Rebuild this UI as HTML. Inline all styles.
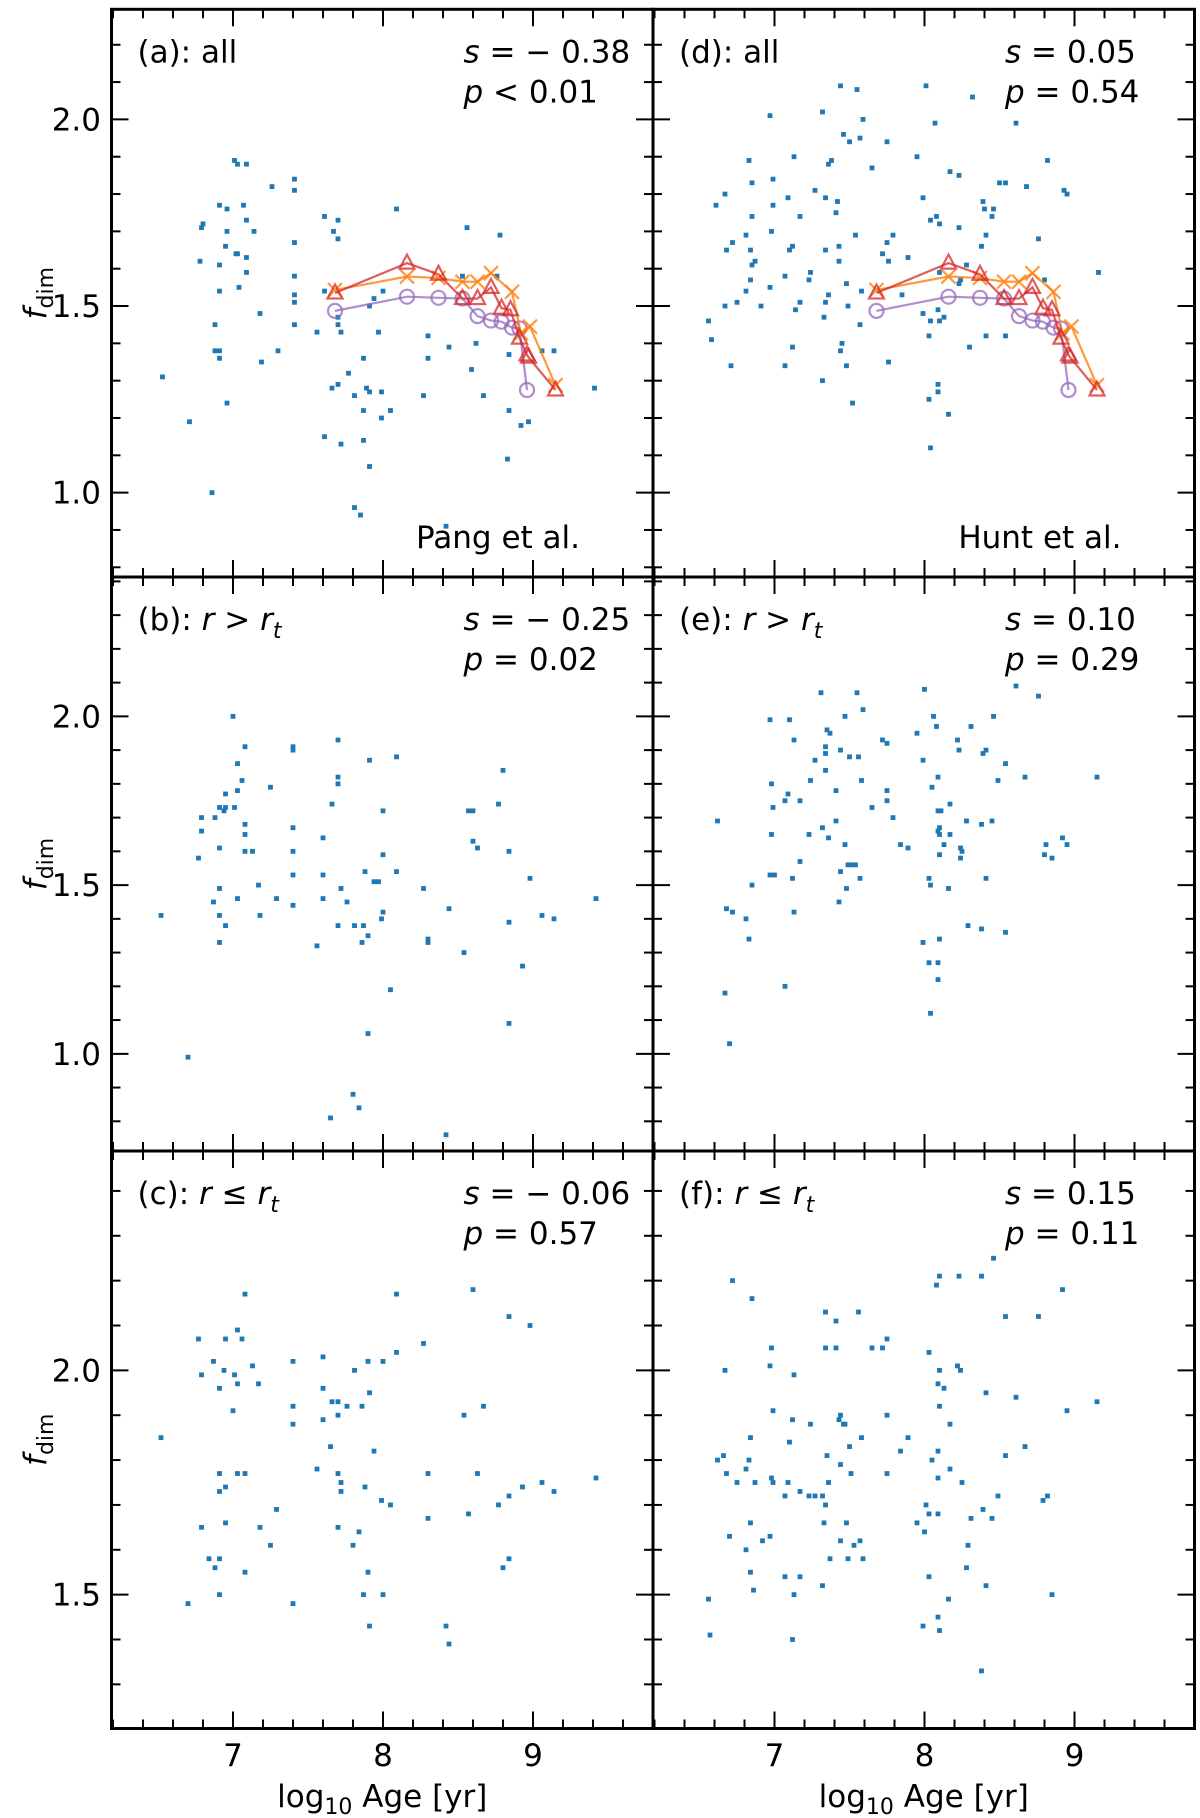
<!DOCTYPE html>
<html><head><meta charset="utf-8"><style>
html,body{margin:0;padding:0;background:#fff;}
svg{display:block;font-family:"DejaVu Sans","Liberation Sans",sans-serif;}
</style></head><body>
<svg id="fig" width="1200" height="1818" viewBox="0 0 1200 1818" xmlns="http://www.w3.org/2000/svg"></svg>
<script>
// ---- data ----
const xTicks=[7,8,9];
const xTickLabels=["7","8","9"];
const yTicksA=[1.0,1.5,2.0];
const yTicksB=[1.0,1.5,2.0];
const yTicksC=[1.5,2.0];
const yTickLabelsA=["1.0","1.5","2.0"];
const yTickLabelsC=["1.5","2.0"];

const aX=[6.53,6.71,6.78,6.79,6.80,6.86,6.88,6.88,6.91,6.91,6.91,6.91,6.91,6.96,6.96,6.95,6.96,7.01,7.03,7.09,7.04,7.07,7.09,7.09,7.09,7.02,7.03,7.14,7.18,7.19,7.26,7.30,7.41,7.41,7.41,7.41,7.41,7.41,7.41,7.56,7.61,7.70,7.67,7.70,7.61,7.70,7.72,7.70,7.66,7.70,7.61,7.72,7.77,7.81,7.87,7.89,7.91,7.87,7.87,7.91,7.81,7.85,7.91,7.94,7.97,7.99,7.99,8.05,8.00,8.09,8.27,8.30,8.30,8.44,8.42,8.53,8.56,8.59,8.62,8.67,8.78,8.76,8.84,8.84,8.83,8.92,8.97,9.06,9.14,9.41];
const aY=[1.31,1.19,1.62,1.71,1.72,1.00,1.45,1.38,1.77,1.61,1.54,1.38,1.36,1.76,1.70,1.66,1.24,1.89,1.88,1.88,1.55,1.77,1.73,1.63,1.59,1.64,1.64,1.70,1.48,1.35,1.82,1.38,1.84,1.81,1.67,1.58,1.53,1.51,1.45,1.43,1.74,1.73,1.70,1.68,1.54,1.45,1.43,1.47,1.28,1.29,1.15,1.13,1.32,1.26,1.36,1.28,1.27,1.22,1.14,1.07,0.96,0.94,1.50,1.52,1.43,1.20,1.27,1.22,1.54,1.76,1.26,1.42,1.36,1.39,0.91,1.58,1.71,1.33,1.40,1.26,1.69,1.58,1.37,1.22,1.09,1.18,1.19,1.38,1.38,1.28];

const dX=[7.44,7.55,8.01,8.32,7.32,6.97,7.59,8.07,8.61,7.46,7.50,7.57,7.75,7.13,6.83,7.36,7.38,7.65,7.95,8.82,8.17,8.23,6.85,6.99,8.50,8.54,8.68,8.93,8.95,6.67,6.61,7.09,6.99,7.27,7.34,7.42,7.41,7.99,8.39,8.40,8.46,8.45,6.85,7.17,8.04,8.08,8.10,8.23,6.98,7.54,7.79,7.75,6.81,6.72,6.68,6.84,6.87,6.85,7.10,7.12,7.34,7.43,7.43,7.72,7.76,7.89,8.41,8.38,8.76,8.28,6.84,6.81,7.07,7.24,7.23,6.97,7.48,7.36,7.34,7.58,7.85,8.10,8.24,8.23,8.80,9.16,6.67,6.75,6.91,7.14,7.17,7.33,7.49,8.09,7.99,8.04,8.10,8.13,6.56,6.58,7.57,8.03,8.41,8.54,8.30,7.45,7.44,7.12,6.71,7.07,7.48,7.76,7.32,8.09,8.09,8.03,7.52,8.16,8.04];
const dY=[2.09,2.08,2.09,2.06,2.02,2.01,2.00,1.99,1.99,1.96,1.94,1.95,1.94,1.90,1.89,1.88,1.89,1.87,1.90,1.89,1.86,1.85,1.83,1.84,1.83,1.83,1.82,1.81,1.80,1.80,1.77,1.79,1.77,1.81,1.79,1.78,1.75,1.79,1.78,1.76,1.76,1.74,1.74,1.74,1.73,1.74,1.72,1.71,1.70,1.69,1.69,1.67,1.69,1.67,1.65,1.65,1.62,1.61,1.65,1.66,1.65,1.66,1.62,1.64,1.62,1.63,1.69,1.66,1.68,1.61,1.57,1.54,1.58,1.59,1.57,1.55,1.56,1.53,1.51,1.54,1.53,1.59,1.57,1.56,1.57,1.59,1.50,1.51,1.50,1.49,1.51,1.47,1.50,1.49,1.48,1.46,1.46,1.47,1.46,1.41,1.45,1.42,1.42,1.42,1.39,1.40,1.38,1.39,1.34,1.34,1.34,1.35,1.30,1.29,1.27,1.25,1.24,1.21,1.12];

const bX=[7.00,7.08,7.40,7.40,7.70,7.91,8.09,8.80,7.03,7.06,7.25,7.70,7.70,7.03,6.95,6.91,6.95,6.94,7.01,6.79,6.88,6.79,7.66,8.00,8.77,8.57,8.60,7.08,7.08,7.40,7.60,6.91,6.77,7.08,7.13,7.40,8.60,8.63,8.84,8.00,7.40,7.60,7.88,8.09,7.97,7.94,8.98,6.91,7.17,7.72,8.27,6.87,7.03,7.29,7.60,7.40,7.76,9.42,6.52,6.91,7.18,8.00,7.99,8.44,9.06,9.14,8.84,6.95,7.70,7.81,7.87,7.90,7.86,8.30,8.30,6.91,7.56,8.54,8.93,8.05,8.84,7.90,6.70,7.80,7.84,7.65,8.42];
const bY=[2.00,1.91,1.91,1.90,1.93,1.87,1.88,1.84,1.86,1.81,1.79,1.82,1.80,1.78,1.77,1.73,1.73,1.72,1.73,1.70,1.70,1.66,1.74,1.72,1.74,1.72,1.72,1.68,1.65,1.67,1.64,1.61,1.58,1.60,1.60,1.60,1.63,1.61,1.60,1.59,1.53,1.53,1.54,1.54,1.51,1.51,1.52,1.49,1.50,1.49,1.49,1.45,1.46,1.46,1.46,1.44,1.45,1.46,1.41,1.41,1.41,1.42,1.40,1.43,1.41,1.40,1.39,1.38,1.38,1.38,1.38,1.35,1.33,1.34,1.33,1.33,1.32,1.30,1.26,1.19,1.09,1.06,0.99,0.88,0.84,0.81,0.76];

const eX=[7.31,7.55,8.00,8.61,8.76,7.59,7.47,8.06,8.46,6.97,7.10,8.08,8.31,7.35,7.37,7.13,7.95,7.72,7.75,8.22,7.34,7.34,7.44,8.23,8.39,8.41,7.27,7.50,7.56,7.99,8.54,7.34,8.09,8.67,9.15,8.49,7.24,7.58,6.98,7.41,7.75,8.05,7.09,7.07,7.17,7.75,8.17,6.99,7.65,8.09,8.11,6.62,7.41,7.79,8.28,8.45,8.38,7.32,7.36,6.98,7.23,8.09,8.10,8.10,8.17,7.47,7.84,7.89,8.13,8.24,8.25,8.24,8.10,8.81,8.92,8.95,8.80,8.85,7.17,7.49,7.52,7.54,7.44,6.97,7.00,7.12,7.57,8.03,8.04,8.41,6.85,8.16,7.48,7.43,6.68,6.72,7.13,6.81,8.29,8.38,8.54,6.83,7.99,8.10,8.03,8.09,8.09,7.07,6.67,8.04,6.70];
const eY=[2.07,2.07,2.08,2.09,2.06,2.02,2.00,2.00,2.00,1.99,1.99,1.97,1.97,1.96,1.95,1.93,1.95,1.93,1.92,1.93,1.91,1.89,1.90,1.90,1.89,1.90,1.87,1.88,1.88,1.87,1.86,1.84,1.82,1.82,1.82,1.81,1.81,1.81,1.80,1.78,1.78,1.79,1.77,1.75,1.75,1.75,1.74,1.73,1.73,1.72,1.72,1.69,1.69,1.70,1.69,1.69,1.68,1.67,1.64,1.65,1.65,1.66,1.67,1.65,1.65,1.62,1.62,1.61,1.62,1.61,1.60,1.58,1.59,1.62,1.64,1.62,1.59,1.58,1.57,1.56,1.56,1.56,1.54,1.53,1.53,1.52,1.52,1.52,1.50,1.52,1.50,1.49,1.49,1.45,1.43,1.42,1.42,1.40,1.38,1.37,1.36,1.34,1.33,1.34,1.27,1.27,1.22,1.20,1.18,1.12,1.03];

const cX=[7.08,8.09,8.60,8.84,8.98,6.77,7.03,6.95,7.06,8.27,8.09,6.87,7.40,7.60,7.90,8.00,7.13,6.94,7.81,6.79,7.01,7.17,6.91,7.03,7.60,7.91,7.66,7.70,7.40,7.76,7.86,8.67,7.00,7.70,8.54,7.60,7.40,6.52,7.65,7.94,7.56,6.91,7.03,7.08,7.70,8.30,8.63,7.72,9.06,9.42,6.95,7.88,8.93,6.91,7.72,9.14,7.99,8.05,8.77,8.84,7.29,8.57,6.79,6.95,7.18,7.70,8.30,7.84,7.25,7.80,6.84,6.88,6.91,7.08,8.80,8.84,7.90,6.91,7.87,8.00,6.70,7.40,7.91,8.42,8.44];
const cY=[2.17,2.17,2.18,2.12,2.10,2.07,2.09,2.07,2.07,2.06,2.04,2.02,2.02,2.03,2.02,2.02,2.01,2.00,2.00,1.99,1.99,1.97,1.96,1.97,1.96,1.95,1.93,1.93,1.92,1.92,1.92,1.92,1.91,1.90,1.90,1.89,1.88,1.85,1.83,1.82,1.78,1.77,1.77,1.77,1.77,1.77,1.77,1.75,1.75,1.76,1.74,1.74,1.74,1.73,1.73,1.73,1.71,1.70,1.70,1.72,1.69,1.68,1.65,1.66,1.65,1.65,1.67,1.64,1.61,1.61,1.58,1.56,1.58,1.55,1.56,1.58,1.55,1.50,1.50,1.50,1.48,1.48,1.43,1.43,1.39];

const fX=[8.46,8.10,8.23,8.38,8.08,6.72,8.92,6.85,7.34,7.56,8.54,8.76,7.41,7.75,6.98,7.34,7.41,7.65,7.72,8.03,8.22,6.67,6.97,8.10,8.24,7.13,8.09,8.13,8.41,8.61,9.15,8.10,6.99,8.95,7.43,7.44,7.12,7.24,7.46,7.47,7.75,8.17,6.84,7.58,7.89,7.10,7.50,8.67,7.84,7.35,8.09,8.54,6.66,6.62,6.83,8.05,7.44,8.17,6.81,6.68,7.51,7.75,8.09,6.75,6.87,6.98,6.99,7.09,7.36,8.25,7.17,7.07,7.23,7.27,7.32,8.49,8.79,8.82,7.34,8.01,8.03,8.09,8.39,6.84,7.33,7.48,7.95,8.31,8.45,8.00,6.70,6.97,6.92,7.44,7.57,7.53,6.81,8.29,7.37,7.49,7.59,8.28,6.84,7.07,7.17,7.32,8.03,8.41,6.86,7.13,6.56,8.85,8.16,8.09,8.10,7.99,6.57,7.12,8.38];
const fY=[2.25,2.21,2.21,2.21,2.19,2.20,2.18,2.16,2.13,2.13,2.12,2.12,2.11,2.07,2.05,2.05,2.05,2.05,2.05,2.04,2.01,2.00,2.01,2.00,2.00,1.99,1.97,1.96,1.95,1.94,1.93,1.92,1.91,1.91,1.89,1.90,1.89,1.88,1.88,1.88,1.90,1.88,1.85,1.85,1.85,1.84,1.83,1.83,1.82,1.81,1.82,1.81,1.81,1.80,1.80,1.80,1.79,1.78,1.78,1.77,1.77,1.77,1.76,1.75,1.75,1.76,1.75,1.75,1.75,1.75,1.73,1.72,1.72,1.72,1.72,1.72,1.71,1.72,1.70,1.70,1.68,1.68,1.69,1.66,1.66,1.66,1.66,1.67,1.67,1.64,1.63,1.63,1.62,1.62,1.62,1.61,1.60,1.61,1.58,1.58,1.58,1.56,1.55,1.54,1.54,1.52,1.54,1.52,1.51,1.50,1.49,1.50,1.49,1.45,1.42,1.43,1.41,1.40,1.33];

const circX=[7.68,8.16,8.37,8.53,8.63,8.72,8.79,8.86,8.91,8.96];
const circY=[1.487,1.525,1.522,1.52,1.473,1.461,1.458,1.442,1.44,1.275];
const crossX=[7.68,8.16,8.37,8.53,8.63,8.72,8.86,8.92,8.98,9.15];
const crossY=[1.543,1.579,1.575,1.565,1.565,1.588,1.538,1.427,1.445,1.288];
const triX=[7.68,8.16,8.37,8.53,8.63,8.72,8.79,8.85,8.91,8.96,8.97,9.15];
const triY=[1.535,1.615,1.585,1.52,1.52,1.55,1.494,1.49,1.414,1.369,1.363,1.275];

// ---- layout ----
const NS="http://www.w3.org/2000/svg";
const svg=document.getElementById('fig');
const COLS=[111.5,653];
const COLW=541.5;
const ROWS=[[9.3,577],[577,1151],[1151,1728.5]];
const XMIN=6.19, XMAX=9.80;
const YLIM=[[0.774,2.295],[0.712,2.413],[1.2016,2.489]];

function mk(tag,attrs,parent){const e=document.createElementNS(NS,tag);for(const k in attrs)e.setAttribute(k,attrs[k]);(parent||svg).appendChild(e);return e;}
function txt(parent,x,y,s,opts){const t=mk('text',Object.assign({x:x,y:y,'font-size':31,fill:'#000'},opts||{}),parent);t.textContent=s;return t;}

const panels=[
 {id:'a',col:0,row:0,xs:aX,ys:aY,label:'(a): all',s:'= \u2212 0.38',pOp:'<',pv:' 0.01',src:'Pang et al.',curves:true},
 {id:'b',col:0,row:1,xs:bX,ys:bY,label:'rgt',s:'= \u2212 0.25',pOp:'=',pv:' 0.02'},
 {id:'c',col:0,row:2,xs:cX,ys:cY,label:'rle',s:'= \u2212 0.06',pOp:'=',pv:' 0.57'},
 {id:'d',col:1,row:0,xs:dX,ys:dY,label:'(d): all',s:'= 0.05',pOp:'=',pv:' 0.54',src:'Hunt et al.',curves:true},
 {id:'e',col:1,row:1,xs:eX,ys:eY,label:'rgt',s:'= 0.10',pOp:'=',pv:' 0.29'},
 {id:'f',col:1,row:2,xs:fX,ys:fY,label:'rle',s:'= 0.15',pOp:'=',pv:' 0.11'}
];

panels.forEach(P=>{
  const L=COLS[P.col], R=L+COLW, T=ROWS[P.row][0], B=ROWS[P.row][1];
  const [y0,y1]=YLIM[P.row];
  const sx=v=>L+(v-XMIN)/(XMAX-XMIN)*(R-L);
  const sy=v=>B-(v-y0)/(y1-y0)*(B-T);
  const g=mk('g',{});
  
  
  // ticks
  const tg=mk('g',{stroke:'#000','stroke-width':2},g);
  
  
  for(let k=0;k<=20;k++){const v=6.2+k*0.2; if(v>XMAX)break; const x=sx(v); const major=Math.abs(v-Math.round(v))<0.01; const len=major?17:9;
    mk('line',{x1:x,y1:B,x2:x,y2:B-len},tg); mk('line',{x1:x,y1:T,x2:x,y2:T+len},tg);}
  for(let k=0;k<=30;k++){const v=Math.ceil(y0*10)/10+k*0.1; if(v>y1)break; const y=sy(v); const major=Math.abs(v*2-Math.round(v*2))<0.01; const len=major?17:9;
    mk('line',{x1:L,y1:y,x2:L+len,y2:y},tg); mk('line',{x1:R,y1:y,x2:R-len,y2:y},tg);}
  // scatter
  const sg=mk('g',{fill:'#1f77b4'},g);
  
  
  for(let i=0;i<P.xs.length;i++){
    const r=mk('rect',{x:sx(P.xs[i])-2.4,y:sy(P.ys[i])-2.4,width:4.8,height:4.8},sg);
    
    
  }
  if(P.curves){
    const cg=mk('g',{fill:'none','stroke-width':2.2},g);
    
    
    const pc=mk('polyline',{points:circX.map((v,i)=>sx(v)+','+sy(circY[i])).join(' '),stroke:'#9467bd','stroke-opacity':0.75},cg);
    
    
    circX.forEach((v,i)=>{mk('circle',{cx:sx(v),cy:sy(circY[i]),r:7,stroke:'#9467bd','stroke-opacity':0.75},cg);});
    const po=mk('polyline',{points:crossX.map((v,i)=>sx(v)+','+sy(crossY[i])).join(' '),stroke:'#ff7f0e','stroke-opacity':0.8},cg);
    
    
    crossX.forEach((v,i)=>{const x=sx(v),y=sy(crossY[i]),d=7;mk('path',{d:`M${x-d},${y-d}L${x+d},${y+d}M${x-d},${y+d}L${x+d},${y-d}`,stroke:'#ff7f0e','stroke-opacity':0.8},cg);});
    const pr=mk('polyline',{points:triX.map((v,i)=>sx(v)+','+sy(triY[i])).join(' '),stroke:'#d62728','stroke-opacity':0.75},cg);
    
    
    triX.forEach((v,i)=>{const x=sx(v),y=sy(triY[i]);mk('path',{d:`M${x},${y-8.5}L${x+7.5},${y+5.5}L${x-7.5},${y+5.5}Z`,stroke:'#d62728','stroke-opacity':0.75},cg);});
  }
  // frame
  const fr=mk('rect',{x:L,y:T,width:R-L,height:B-T,fill:'none',stroke:'#000','stroke-width':3},g);
  
  
  // panel label
  let lab;
  if(P.label==='rgt'||P.label==='rle'){
    lab=txt(g,L+26,T+53,'');
    lab.innerHTML=`(${P.id}): <tspan font-style="italic">r</tspan> ${P.label==='rgt'?'&gt;':'\u2264'} <tspan font-style="italic">r</tspan><tspan font-style="italic" font-size="22" dy="8">t</tspan>`;
  } else lab=txt(g,L+26,T+53,P.label);
  
  
  const st=txt(g,L+352,T+53,'');
  st.innerHTML=`<tspan font-style="italic">s</tspan> ${P.s}`;
  
  
  const pt=txt(g,L+352,T+93,'');
  pt.innerHTML=`<tspan font-style="italic">p</tspan> ${P.pOp==='<'?'&lt;':'='}${P.pv}`;
  
  
  if(P.src){const s=txt(g,R-73,B-29,P.src,{'text-anchor':'end'});
    
    }
  // y tick labels on left column
  if(P.col===0){
    const ticks=P.row===2?yTicksC:(P.row===1?yTicksB:yTicksA);
    const labs=P.row===2?yTickLabelsC:yTickLabelsA;
    ticks.forEach((v,i)=>{const t=txt(g,101,sy(v)+11,labs[i],{'text-anchor':'end'});
      
      });
    const yl=txt(g,0,0,'',{transform:`translate(46,${(T+B)/2}) rotate(-90)`,'text-anchor':'middle'});
    yl.innerHTML='<tspan font-style="italic">f</tspan><tspan font-size="22" dy="7">dim</tspan>';
    
    
  }
  if(P.row===2){
    xTicks.forEach((v,i)=>{const t=txt(g,sx(v),1766,xTickLabels[i],{'text-anchor':'middle'});
      
      });
    const xl=txt(g,(L+R)/2,1807,'',{'text-anchor':'middle'});
    xl.innerHTML='log<tspan font-size="22" dy="7">10</tspan><tspan dy="-7"> Age [yr]</tspan>';
    
    
  }
});
</script>
</body></html>
